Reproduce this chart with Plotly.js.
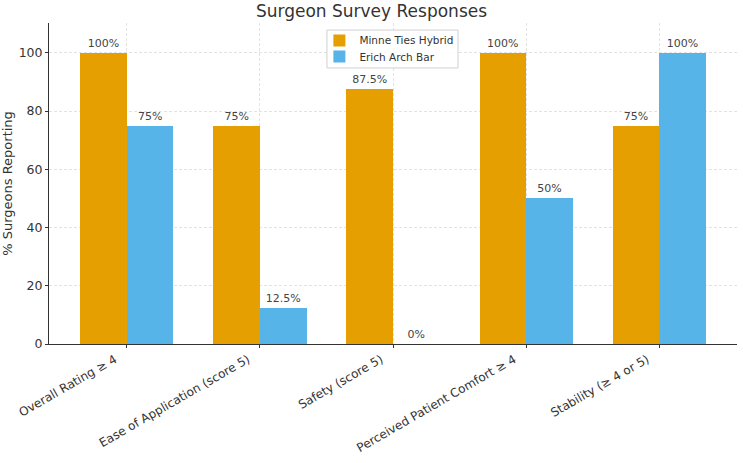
<!DOCTYPE html>
<html>
<head>
<meta charset="utf-8">
<script src="https://cdn.plot.ly/plotly-3.0.1.min.js"></script>
<style>
  html, body { margin: 0; padding: 0; background: #fff; }
  #chart { width: 743px; height: 463px; }
</style>
</head>
<body>
<div id="chart"></div>
<script>
// Survey categories and share of surgeons reporting each outcome (%)
const categories = [
  "Overall Rating ≥ 4",
  "Ease of Application (score 5)",
  "Safety (score 5)",
  "Perceived Patient Comfort ≥ 4",
  "Stability (≥ 4 or 5)"
];
const minneTiesHybrid = [100, 75, 87.5, 100, 75];
const erichArchBar = [75, 12.5, 0, 50, 100];
const seriesNames = ["Minne Ties Hybrid", "Erich Arch Bar"];

const FONT = "DejaVu Sans, Liberation Sans, sans-serif";
const idx = categories.map((_, i) => i);
const barW = 0.35;
const fmt = v => v + "%";

const traces = [
  {
    type: "bar",
    name: seriesNames[0],
    legend: "legend",
    x: idx.map(i => i - barW / 2),
    y: minneTiesHybrid,
    width: barW,
    marker: { color: "#E69F00" },
    text: minneTiesHybrid.map(fmt),
    textposition: "outside",
    textangle: 0,
    cliponaxis: false,
    textfont: { family: FONT, size: 11, color: "#444" },
    hoverinfo: "y+name"
  },
  {
    type: "bar",
    name: seriesNames[1],
    legend: "legend2",
    x: idx.map(i => i + barW / 2),
    y: erichArchBar,
    width: barW,
    marker: { color: "#56B4E9" },
    text: erichArchBar.map(fmt),
    textposition: "outside",
    textangle: 0,
    cliponaxis: false,
    textfont: { family: FONT, size: 11, color: "#444" },
    hoverinfo: "y+name"
  }
];

// compact two-row legend: one entry per legend box, sharing a single frame
const legendBase = {
  x: 0.393,
  xanchor: "left",
  yanchor: "top",
  bgcolor: "rgba(0,0,0,0)",
  borderwidth: 0,
  font: { family: FONT, size: 10.5, color: "#333" },
  itemwidth: 30
};

const layout = {
  width: 743,
  height: 463,
  margin: { l: 49, r: 6, t: 23, b: 119 },
  paper_bgcolor: "#fff",
  plot_bgcolor: "#fff",
  font: { family: FONT, color: "#333" },
  title: {
    text: "Surgeon Survey Responses",
    font: { family: FONT, size: 17, color: "#333" },
    x: 0.5,
    xanchor: "center",
    y: 0.988,
    yanchor: "top"
  },
  barmode: "overlay",
  bargap: 0,
  showlegend: true,
  legend: Object.assign({}, legendBase, { y: 0.991 }),
  legend2: Object.assign({}, legendBase, { y: 0.941 }),
  shapes: [
    {
      type: "rect",
      xref: "paper", yref: "paper",
      x0: 0.404, x1: 0.5945, y0: 0.860, y1: 0.978,
      line: { color: "#d0d0d0", width: 1 },
      fillcolor: "rgba(255,255,255,0.85)",
      layer: "above"
    }
  ],
  xaxis: {
    range: [-0.585, 4.585],
    tickmode: "array",
    tickvals: idx,
    ticktext: categories,
    tickangle: -30,
    ticklabelshift: -12,
    tickfont: { family: FONT, size: 12, color: "#333" },
    ticks: "outside",
    ticklen: 3,
    tickcolor: "#333",
    showline: true,
    linecolor: "#333",
    linewidth: 1,
    showgrid: true,
    gridcolor: "#e2e2e2",
    griddash: "3px,2px",
    zeroline: false
  },
  yaxis: {
    range: [0, 110.25],
    tickvals: [0, 20, 40, 60, 80, 100],
    tickfont: { family: FONT, size: 12.5, color: "#333" },
    ticks: "outside",
    ticklen: 3,
    tickcolor: "#333",
    showline: true,
    linecolor: "#333",
    linewidth: 1,
    showgrid: true,
    gridcolor: "#e2e2e2",
    griddash: "3px,2px",
    zeroline: false,
    title: {
      text: "% Surgeons Reporting",
      font: { family: FONT, size: 13, color: "#333" },
      standoff: 8
    }
  }
};

Plotly.newPlot("chart", traces, layout, { displayModeBar: false, staticPlot: true });
</script>
</body>
</html>
